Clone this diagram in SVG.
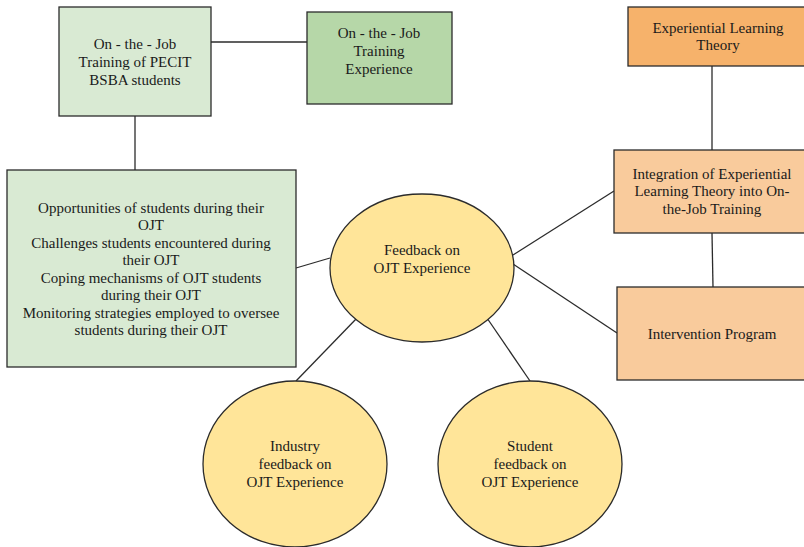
<svg xmlns="http://www.w3.org/2000/svg" width="804" height="547" viewBox="0 0 804 547">
<style>
.n{stroke:#2b2b2b;stroke-width:1.3}
.c line{stroke:#2b2b2b;stroke-width:1.3}
text{font-family:'Liberation Serif','DejaVu Serif',Times,serif;font-size:15px;fill:#1a1a1a;text-anchor:middle}
</style>
<rect width="804" height="547" fill="#fff"/>
<g class="c" id="connectors">
<line x1="211" y1="42" x2="307" y2="42"/>
<line x1="135" y1="116" x2="135" y2="170"/>
<line x1="296" y1="268" x2="330" y2="258"/>
<line x1="357" y1="318" x2="296" y2="381"/>
<line x1="487" y1="318" x2="530" y2="381"/>
<line x1="712" y1="66" x2="712" y2="150"/>
<line x1="712" y1="233" x2="713" y2="287"/>
<line x1="513" y1="255" x2="614" y2="191"/>
<line x1="513" y1="264" x2="617" y2="333"/>
</g>
<g id="n1"><rect class="n" x="59" y="7" width="152" height="109" fill="#d9ead3"/>
<text x="135" y="49">On - the - Job</text><text x="135" y="67">Training of PECIT</text><text x="135" y="85">BSBA students</text></g>
<g id="n2"><rect class="n" x="307" y="12" width="145" height="92" fill="#b6d7a8"/>
<text x="379" y="38">On - the - Job</text><text x="379" y="56">Training</text><text x="379" y="74">Experience</text></g>
<g id="n3"><rect class="n" x="7" y="170" width="289" height="197" fill="#d9ead3"/>
<text x="151" y="213">Opportunities of students during their</text>
<text x="151" y="230">OJT</text>
<text x="151" y="248">Challenges students encountered during</text>
<text x="151" y="265">their OJT</text>
<text x="151" y="283">Coping mechanisms of OJT students</text>
<text x="151" y="300">during their OJT</text>
<text x="151" y="318">Monitoring strategies employed to oversee</text>
<text x="151" y="335">students during their OJT</text></g>
<g id="n4"><ellipse class="n" cx="422" cy="268" rx="92" ry="74" fill="#ffe599"/>
<text x="422" y="255">Feedback on</text><text x="422" y="273">OJT Experience</text></g>
<g id="n5"><ellipse class="n" cx="295" cy="464" rx="92" ry="83" fill="#ffe599"/>
<text x="295" y="451">Industry</text><text x="295" y="469">feedback on</text><text x="295" y="487">OJT Experience</text></g>
<g id="n6"><ellipse class="n" cx="530" cy="464" rx="92" ry="83" fill="#ffe599"/>
<text x="530" y="451">Student</text><text x="530" y="469">feedback on</text><text x="530" y="487">OJT Experience</text></g>
<g id="n7"><rect class="n" x="628" y="7" width="180" height="59" fill="#f6b26b"/>
<text x="718" y="33">Experiential Learning</text><text x="718" y="50">Theory</text></g>
<g id="n8"><rect class="n" x="614" y="150" width="194" height="83" fill="#f9cb9c"/>
<text x="712" y="179">Integration of Experiential</text><text x="712" y="196">Learning Theory into On-</text><text x="712" y="214">the-Job Training</text></g>
<g id="n9"><rect class="n" x="617" y="287" width="191" height="93" fill="#f9cb9c"/>
<text x="712" y="339">Intervention Program</text></g>
</svg>
